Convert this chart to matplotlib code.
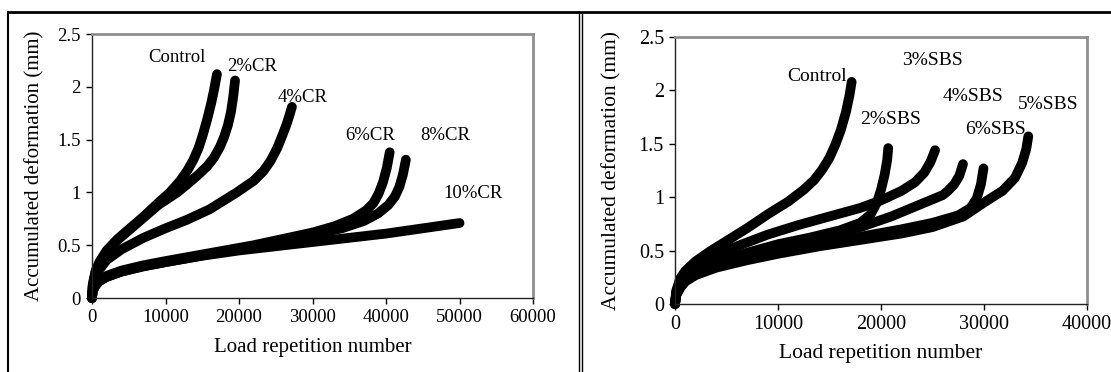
import matplotlib
matplotlib.use('Agg')
import matplotlib.pyplot as plt
from matplotlib.lines import Line2D

plt.rcParams['font.family'] = ['Liberation Serif', 'DejaVu Serif']

# crumb rubber (CR) mixes: load repetitions vs accumulated deformation (mm)
cr_names = ['Control', '2%CR', '4%CR', '6%CR', '8%CR', '10%CR']
cr_x = [
    [0, 100, 500, 1000, 2000, 3500, 5000, 7000, 9000, 10600, 12000, 13000, 13800, 14500, 15100, 15700, 16200, 16600, 17000],
    [0, 100, 500, 1000, 2000, 3500, 5000, 7000, 9000, 11600, 13000, 14500, 15700, 16600, 17400, 18000, 18500, 18900, 19200, 19460],
    [0, 100, 500, 1000, 2000, 4000, 7000, 10000, 12900, 16000, 19700, 22000, 23300, 24300, 25200, 25900, 26500, 26900, 27200],
    [0, 100, 500, 1000, 2000, 4000, 7000, 10000, 14000, 18000, 22000, 26000, 30000, 33000, 35500, 37300, 38300, 39000, 39600, 40100, 40500],
    [0, 100, 500, 1000, 2000, 4000, 7000, 10000, 14000, 18000, 22000, 26000, 30000, 34000, 37000, 38900, 40300, 41200, 41800, 42300, 42700],
    [0, 100, 500, 1000, 2000, 4000, 7000, 10000, 15000, 20000, 25000, 30000, 35000, 40000, 45000, 50000],
]
cr_y = [
    [0, 0.13, 0.26, 0.34, 0.45, 0.56, 0.65, 0.77, 0.90, 1.00, 1.11, 1.21, 1.31, 1.42, 1.55, 1.70, 1.84, 1.97, 2.12],
    [0, 0.12, 0.25, 0.33, 0.44, 0.55, 0.64, 0.76, 0.88, 1.00, 1.08, 1.17, 1.25, 1.33, 1.43, 1.53, 1.64, 1.76, 1.90, 2.06],
    [0, 0.10, 0.20, 0.27, 0.36, 0.46, 0.57, 0.66, 0.74, 0.84, 1.00, 1.11, 1.20, 1.30, 1.42, 1.54, 1.65, 1.74, 1.81],
    [0, 0.07, 0.13, 0.17, 0.21, 0.26, 0.31, 0.35, 0.40, 0.45, 0.50, 0.56, 0.62, 0.68, 0.75, 0.83, 0.90, 0.99, 1.10, 1.23, 1.38],
    [0, 0.07, 0.12, 0.16, 0.20, 0.25, 0.30, 0.34, 0.39, 0.44, 0.49, 0.54, 0.60, 0.66, 0.73, 0.80, 0.88, 0.96, 1.05, 1.17, 1.31],
    [0, 0.07, 0.12, 0.16, 0.20, 0.25, 0.30, 0.34, 0.40, 0.45, 0.49, 0.53, 0.57, 0.61, 0.66, 0.71],
]
cr_label_pos = [(11550, 2.28), (21800, 2.19), (28600, 1.90), (37800, 1.54), (48000, 1.54), (51900, 0.99)]

# SBS polymer mixes
sbs_names = ['Control', '2%SBS', '3%SBS', '4%SBS', '5%SBS', '6%SBS']
sbs_x = [
    [0, 100, 500, 1000, 2000, 3500, 5000, 7000, 9000, 11000, 12500, 13500, 14300, 15000, 15600, 16100, 16600, 16950, 17150],
    [0, 100, 500, 1000, 2000, 4000, 7000, 10000, 13000, 16000, 18000, 19000, 19600, 20000, 20350, 20600, 20700],
    [0, 100, 500, 1000, 2000, 4000, 6000, 9000, 12000, 15000, 18000, 20000, 22000, 23300, 24200, 24800, 25250],
    [0, 100, 500, 1000, 2000, 4000, 7000, 10000, 14000, 18000, 21000, 24000, 26000, 26500, 27100, 27600, 27960],
    [0, 100, 500, 1000, 2000, 4000, 7000, 10000, 14000, 18000, 22000, 25000, 27500, 28700, 29300, 29700, 29950],
    [0, 100, 500, 1000, 2000, 4000, 7000, 10000, 14000, 18000, 22000, 25000, 28000, 30000, 31800, 33000, 33700, 34100, 34300],
]
sbs_y = [
    [0, 0.12, 0.24, 0.31, 0.40, 0.50, 0.59, 0.71, 0.84, 0.96, 1.07, 1.16, 1.26, 1.37, 1.50, 1.63, 1.80, 1.96, 2.08],
    [0, 0.09, 0.18, 0.24, 0.31, 0.39, 0.48, 0.56, 0.62, 0.69, 0.76, 0.84, 0.95, 1.07, 1.21, 1.35, 1.46],
    [0, 0.10, 0.20, 0.27, 0.35, 0.46, 0.54, 0.65, 0.74, 0.82, 0.90, 0.97, 1.06, 1.14, 1.23, 1.33, 1.44],
    [0, 0.09, 0.17, 0.23, 0.30, 0.38, 0.46, 0.53, 0.62, 0.72, 0.82, 0.94, 1.02, 1.06, 1.12, 1.20, 1.31],
    [0, 0.08, 0.16, 0.22, 0.29, 0.36, 0.44, 0.50, 0.57, 0.63, 0.70, 0.76, 0.83, 0.90, 0.99, 1.12, 1.27],
    [0, 0.08, 0.15, 0.21, 0.27, 0.34, 0.41, 0.47, 0.54, 0.60, 0.66, 0.72, 0.82, 0.95, 1.06, 1.18, 1.32, 1.45, 1.57],
]
sbs_label_pos = [(13800, 2.13), (20900, 1.73), (24950, 2.28), (28900, 1.94), (36200, 1.87), (31100, 1.63)]

y_ticks = [0, 0.5, 1, 1.5, 2, 2.5]
y_tick_labels = ['0', '0.5', '1', '1.5', '2', '2.5']


def panel(ax, xs, ys, names, label_pos, xmax, tick_fs, label_fs, note_fs):
    for x, y in zip(xs, ys):
        ax.plot(x, y, color='black', lw=7, solid_capstyle='round',
                solid_joinstyle='round', clip_on=False)
    for name, (lx, ly) in zip(names, label_pos):
        ax.text(lx, ly, name, fontsize=note_fs, ha='center', va='center')
    ax.set_xlim(0, xmax)
    ax.set_ylim(0, 2.5)
    ax.set_xticks(range(0, xmax + 1, 10000))
    ax.set_yticks(y_ticks)
    ax.set_yticklabels(y_tick_labels)
    ax.tick_params(labelsize=tick_fs, length=4, width=1, pad=4)
    for side in ['top', 'right']:
        ax.spines[side].set_color('#8f8f8f')
        ax.spines[side].set_linewidth(2)
    for side in ['left', 'bottom']:
        ax.spines[side].set_color('#222222')
        ax.spines[side].set_linewidth(1)
    ax.set_xlabel('Load repetition number', fontsize=label_fs)
    ax.set_ylabel('Accumulated deformation (mm)', fontsize=label_fs)


fig = plt.figure(figsize=(11.11, 3.72), dpi=100)
ax1 = fig.add_axes([0.0828, 0.1989, 0.397, 0.7097])
ax2 = fig.add_axes([0.6076, 0.1828, 0.3708, 0.7177])

panel(ax1, cr_x, cr_y, cr_names, cr_label_pos, 60000, 13.5, 15, 13.5)
panel(ax2, sbs_x, sbs_y, sbs_names, sbs_label_pos, 40000, 14.5, 15.5, 14)

ax1.xaxis.set_label_coords(0.5, -0.15)
ax1.yaxis.set_label_coords(-0.107, 0.5)
ax2.xaxis.set_label_coords(0.5, -0.15)
ax2.yaxis.set_label_coords(-0.131, 0.5)

# page frame: top rule, outer left edge and the double separator
fig.add_artist(Line2D([8 / 1111, 1], [1 - 12 / 372] * 2, color='black', lw=2,
                      transform=fig.transFigure))
fig.add_artist(Line2D([8 / 1111] * 2, [0, 1 - 12 / 372], color='black', lw=1.5,
                      transform=fig.transFigure))
for xp in (578.5, 582):
    fig.add_artist(Line2D([xp / 1111] * 2, [0, 1 - 12 / 372], color='black', lw=1,
                          transform=fig.transFigure))

fig.savefig('out.png', dpi=100)
